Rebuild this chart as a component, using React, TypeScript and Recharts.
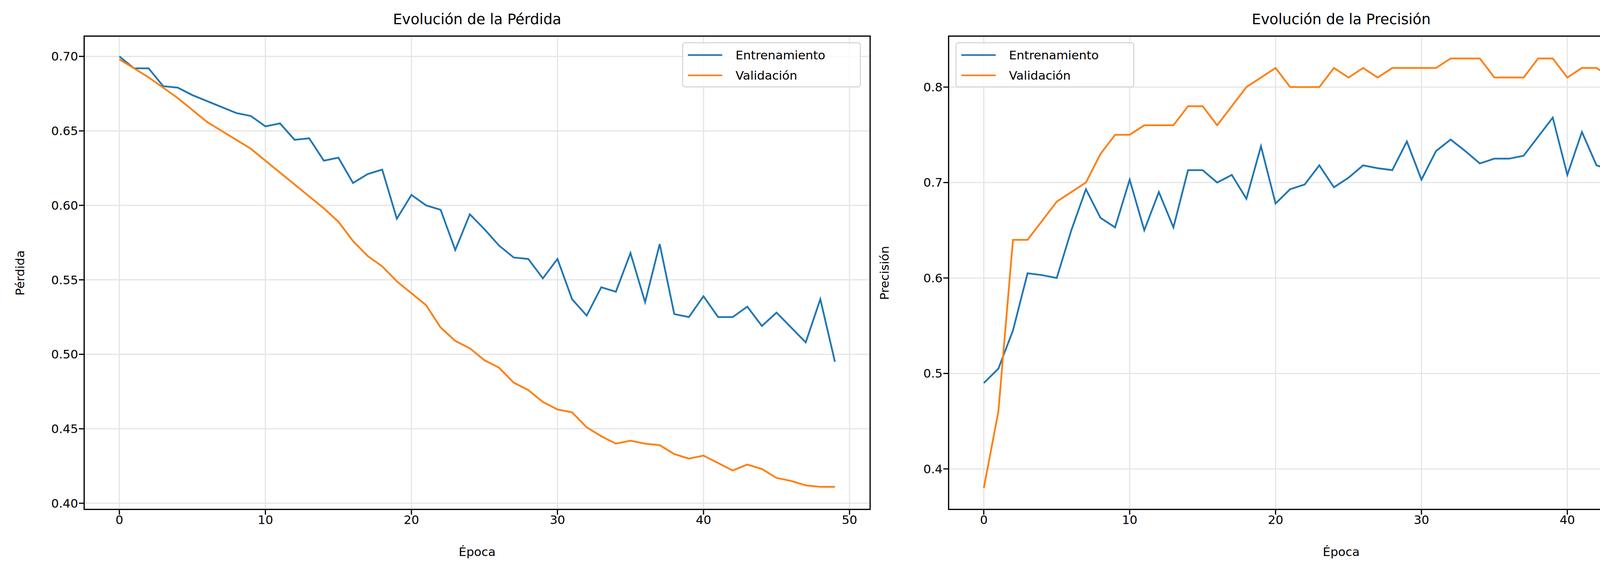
import React from 'react';
import { LineChart, Line, XAxis, YAxis, CartesianGrid } from 'recharts';

const epochs = Array.from({ length: 50 }, (_, i) => i);

const trainLoss = [
  0.700, 0.692, 0.692, 0.680, 0.679, 0.674, 0.670, 0.666, 0.662, 0.660,
  0.653, 0.655, 0.644, 0.645, 0.630, 0.632, 0.615, 0.621, 0.624, 0.591,
  0.607, 0.600, 0.597, 0.570, 0.594, 0.584, 0.573, 0.565, 0.564, 0.551,
  0.564, 0.537, 0.526, 0.545, 0.542, 0.568, 0.535, 0.574, 0.527, 0.525,
  0.539, 0.525, 0.525, 0.532, 0.519, 0.528, 0.518, 0.508, 0.537, 0.495,
];
const valLoss = [
  0.698, 0.692, 0.686, 0.679, 0.672, 0.664, 0.656, 0.650, 0.644, 0.638,
  0.630, 0.622, 0.614, 0.606, 0.598, 0.589, 0.576, 0.566, 0.559, 0.549,
  0.541, 0.533, 0.518, 0.509, 0.504, 0.496, 0.491, 0.481, 0.476, 0.468,
  0.463, 0.461, 0.451, 0.445, 0.440, 0.442, 0.440, 0.439, 0.433, 0.430,
  0.432, 0.427, 0.422, 0.426, 0.423, 0.417, 0.415, 0.412, 0.411, 0.411,
];
const trainAcc = [
  0.490, 0.505, 0.545, 0.605, 0.603, 0.600, 0.650, 0.693, 0.663, 0.653,
  0.703, 0.650, 0.690, 0.653, 0.713, 0.713, 0.700, 0.708, 0.683, 0.738,
  0.678, 0.693, 0.698, 0.718, 0.695, 0.705, 0.718, 0.715, 0.713, 0.743,
  0.703, 0.733, 0.745, 0.733, 0.720, 0.725, 0.725, 0.728, 0.748, 0.768,
  0.708, 0.753, 0.718, 0.713, 0.725, 0.725, 0.743, 0.735, 0.718, 0.760,
];
const valAcc = [
  0.38, 0.46, 0.64, 0.64, 0.66, 0.68, 0.69, 0.70, 0.73, 0.75,
  0.75, 0.76, 0.76, 0.76, 0.78, 0.78, 0.76, 0.78, 0.80, 0.81,
  0.82, 0.80, 0.80, 0.80, 0.82, 0.81, 0.82, 0.81, 0.82, 0.82,
  0.82, 0.82, 0.83, 0.83, 0.83, 0.81, 0.81, 0.81, 0.83, 0.83,
  0.81, 0.82, 0.82, 0.81, 0.81, 0.83, 0.83, 0.82, 0.82, 0.82,
];

const xTicks = [0, 10, 20, 30, 40, 50];
const lossTicks = [0.40, 0.45, 0.50, 0.55, 0.60, 0.65, 0.70];
const accTicks = [0.4, 0.5, 0.6, 0.7, 0.8];

const BLUE = '#1f77b4';
const ORANGE = '#ff7f0e';
const FONT = 'DejaVu Sans, sans-serif';
const tick = { fontSize: 31, fill: '#000', fontFamily: FONT };

const lossData = epochs.map((e, i) => ({ e, train: trainLoss[i], val: valLoss[i] }));
const accData = epochs.map((e, i) => ({ e, train: trainAcc[i], val: valAcc[i] }));

const PLOT_TOP = 91;
const PLOT_BOTTOM = 1306;
const Y_W = 130;
const X_H = 70;

function Panel({ left, right, data, yDomain, yTicks, yFmt, title, yLabel, legendLeft }: any) {
  const width = right - left + Y_W;
  return (
    <div style={{ position: 'absolute', left: left - Y_W, top: 0, width, height: 1470 }}>
      <LineChart
        width={width}
        height={PLOT_BOTTOM + X_H}
        data={data}
        margin={{ top: PLOT_TOP, right: 0, left: 0, bottom: 0 }}
      >
        <CartesianGrid stroke="#e5e5e5" strokeWidth={3} />
        <XAxis
          dataKey="e"
          type="number"
          domain={[-2.45, 51.45]}
          ticks={xTicks}
          height={X_H}
          tick={tick}
          tickSize={12}
          tickLine={{ stroke: '#000', strokeWidth: 3 }}
          axisLine={false}
          allowDataOverflow
        />
        <YAxis
          type="number"
          domain={yDomain}
          ticks={yTicks}
          width={Y_W}
          tick={tick}
          tickSize={12}
          tickFormatter={yFmt}
          tickLine={{ stroke: '#000', strokeWidth: 3 }}
          axisLine={false}
          allowDataOverflow
        />
        <Line dataKey="train" stroke={BLUE} strokeWidth={4.5} dot={false} isAnimationActive={false} />
        <Line dataKey="val" stroke={ORANGE} strokeWidth={4.5} dot={false} isAnimationActive={false} />
      </LineChart>
      <div style={{ position: 'absolute', left: Y_W, top: PLOT_TOP, width: right - left, height: PLOT_BOTTOM - PLOT_TOP, border: '3px solid #000', boxSizing: 'border-box', pointerEvents: 'none' }} />
      <div style={{ position: 'absolute', left: Y_W, width: right - left, top: 28, textAlign: 'center', fontSize: 37, fontFamily: FONT }}>{title}</div>
      <div style={{ position: 'absolute', left: Y_W, width: right - left, top: 1395, textAlign: 'center', fontSize: 31, fontFamily: FONT }}>Época</div>
      <div style={{ position: 'absolute', left: Y_W - 163, top: (PLOT_TOP + PLOT_BOTTOM) / 2, width: 0, height: 0 }}>
        <div style={{ position: 'absolute', transform: 'translate(-50%,-50%) rotate(-90deg)', fontSize: 31, fontFamily: FONT, whiteSpace: 'nowrap' }}>{yLabel}</div>
      </div>
      <div style={{ position: 'absolute', left: legendLeft + Y_W, top: 108, width: 458, height: 116, border: '3px solid #d9d9d9', borderRadius: 8, boxSizing: 'border-box', background: 'rgba(255,255,255,0.8)', fontFamily: FONT, fontSize: 31 }}>
        {[['Entrenamiento', BLUE], ['Validación', ORANGE]].map(([t, c], i) => (
          <div key={t} style={{ position: 'absolute', left: 12, top: 10 + i * 52, display: 'flex', alignItems: 'center', height: 40 }}>
            <div style={{ width: 88, height: 4.5, background: c, marginRight: 34 }} />
            <span>{t}</span>
          </div>
        ))}
      </div>
    </div>
  );
}

export default function App() {
  return (
    <div style={{ position: 'absolute', left: 0, top: 0, width: 4470, height: 1470, background: '#fff' }}>
      <Panel left={214} right={2229} data={lossData} yDomain={[0.3955, 0.714]} yTicks={lossTicks}
        yFmt={(v: number) => v.toFixed(2)} title="Evolución de la Pérdida" yLabel="Pérdida" legendLeft={1532} />
      <Panel left={2427} right={4440} data={accData} yDomain={[0.357, 0.854]} yTicks={accTicks}
        yFmt={(v: number) => v.toFixed(1)} title="Evolución de la Precisión" yLabel="Precisión" legendLeft={19} />
    </div>
  );
}
